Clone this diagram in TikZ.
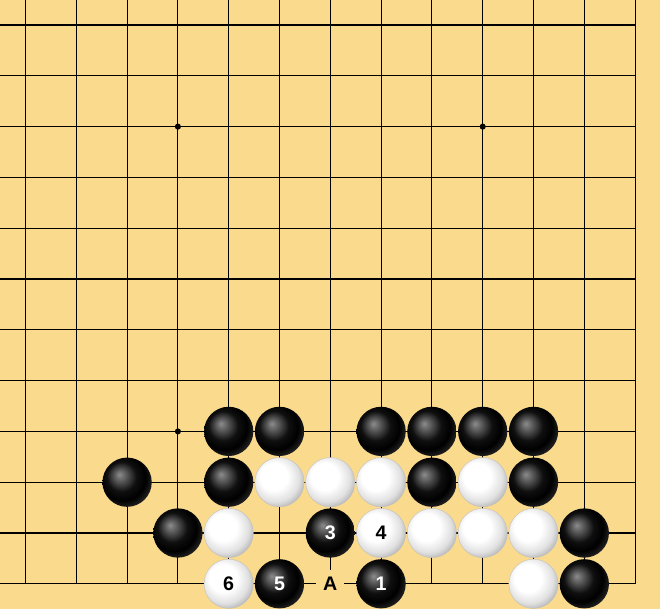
\documentclass[tikz,border=0pt]{standalone}
\usepackage{fontspec}
\usepackage{tikz}
\usepackage{xcolor}
\newfontfamily\stonefont{Liberation Sans}

\definecolor{boardwood}{RGB}{250,218,140}
\pgfdeclareradialshading{blackstone}{\pgfpoint{-8bp}{8bp}}{color(0bp)=(black!45); color(7bp)=(black!68); color(15bp)=(black!94); color(23bp)=(black); color(30bp)=(black!85); color(50bp)=(black!85)}
\pgfdeclareradialshading{whitestone}{\pgfpoint{-8bp}{8bp}}{color(0bp)=(white); color(14bp)=(white); color(24bp)=(black!12); color(31bp)=(black!32); color(50bp)=(black!32)}

\tikzset{
  bstone/.style={circle,minimum size=0.97cm,inner sep=0pt,shading=blackstone,text=white,font=\stonefont\fontsize{11}{13}\selectfont\bfseries},
  wstone/.style={circle,minimum size=0.97cm,inner sep=0pt,shading=whitestone,draw=black!25,line width=0.2pt,text=black,font=\stonefont\fontsize{11}{13}\selectfont\bfseries},
  hoshi/.style={circle,fill=black,inner sep=0pt,minimum size=0.12cm}
}

\begin{document}
\begin{tikzpicture}
\useasboundingbox (-0.502,0.492) rectangle (12.49,-11.496);
\fill[boardwood] (-0.502,0.492) rectangle (12.49,-11.496);
\draw[line width=0.6pt,step=1] (-0.502,0.492) grid (12,-11);

\node[hoshi] (s1) at (3,-2) {};
\node[hoshi] (s2) at (9,-2) {};
\node[hoshi] (s3) at (3,-8) {};

\node (a) [fill=boardwood,minimum size=0.55cm,inner sep=0pt,font=\stonefont\fontsize{11}{13}\selectfont\bfseries] at (6,-11) {A};

\begin{scope}[every node/.style={bstone}]
\node (b1) at (4,-8) {};
\node (b2) at (5,-8) {};
\node (b3) at (7,-8) {};
\node (b4) at (8,-8) {};
\node (b5) at (9,-8) {};
\node (b6) at (10,-8) {};

\node (b7) at (2,-9) {};
\node (b8) at (4,-9) {};
\node (b9) at (8,-9) {};
\node (b10) at (10,-9) {};

\node (b11) at (3,-10) {};
\node (b12) at (11,-10) {};
\node (b13) at (11,-11) {};

\node (m1) at (7,-11) {1};
\node (m3) at (6,-10) {3};
\node (m5) at (5,-11) {5};
\end{scope}

\begin{scope}[every node/.style={wstone}]
\node (w1) at (5,-9) {};
\node (w2) at (6,-9) {};
\node (w3) at (7,-9) {};
\node (w4) at (9,-9) {};

\node (w5) at (4,-10) {};
\node (w6) at (8,-10) {};
\node (w7) at (9,-10) {};
\node (w8) at (10,-10) {};
\node (w9) at (10,-11) {};

\node (m4) at (7,-10) {4};
\node (m6) at (4,-11) {6};
\end{scope}
\end{tikzpicture}
\end{document}
